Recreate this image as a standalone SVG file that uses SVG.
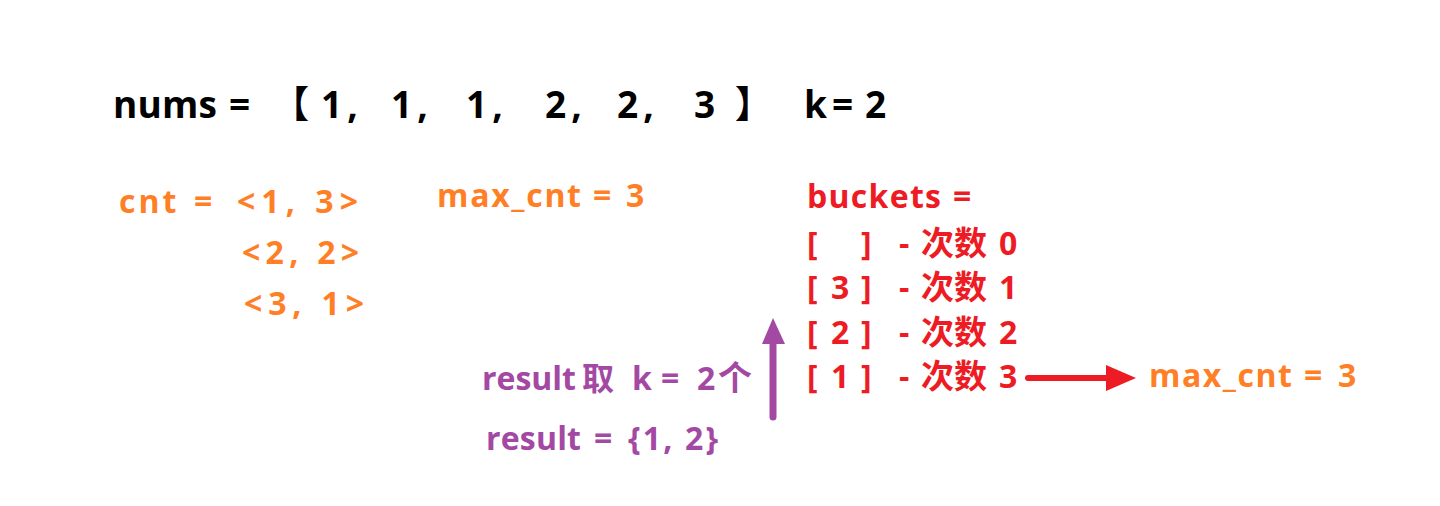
<svg xmlns="http://www.w3.org/2000/svg" width="1440" height="506" viewBox="0 0 1440 506">
<style>
text{font-family:"Open Sans","Noto Sans CJK SC",sans-serif;font-weight:bold;}
.k{fill:#000;font-size:37px;}
.cj{font-family:"Noto Sans CJK SC",sans-serif;}
.o{fill:#FF7F27;font-size:32px;}
.r{fill:#ED1C24;font-size:32px;}
.p{fill:#A349A4;font-size:32px;}
.z{font-size:34px;}
.c{font-size:33px;}
</style>
<rect width="1440" height="506" fill="#fff"/>
<g id="nums">
<text class="k" x="113" y="118" textLength="104" lengthAdjust="spacing">nums</text>
<text class="k" x="229" y="118">=</text>
<text class="k cj" x="272" y="118">【</text>
<text class="k" x="321" y="118" letter-spacing="5">1,</text>
<text class="k" x="391" y="118" letter-spacing="5">1,</text>
<text class="k" x="466" y="118" letter-spacing="5">1,</text>
<text class="k" x="545" y="118" letter-spacing="5">2,</text>
<text class="k" x="617" y="118" letter-spacing="5">2,</text>
<text class="k" x="694" y="118">3</text>
<text class="k cj" x="735" y="118">】</text>
<text class="k" x="804" y="118">k</text>
<text class="k" x="832" y="118">=</text>
<text class="k" x="865" y="118">2</text>
</g>
<g id="cnt">
<text class="o" x="119" y="213" letter-spacing="3">cnt</text>
<text class="o" x="194" y="213">=</text>
<text class="o" x="237" y="213" textLength="121" lengthAdjust="spacing">&lt;1, 3&gt;</text>
<text class="o" x="242" y="264" textLength="117" lengthAdjust="spacing">&lt;2, 2&gt;</text>
<text class="o" x="244" y="315" textLength="120" lengthAdjust="spacing">&lt;3, 1&gt;</text>
</g>
<g id="maxcnt1">
<text class="o" x="437" y="207" textLength="144" lengthAdjust="spacing">max_cnt</text>
<text class="o" x="593" y="207">=</text>
<text class="o" x="626" y="207">3</text>
</g>
<g id="buckets">
<text class="r" x="807" y="208" textLength="134" lengthAdjust="spacing">buckets</text>
<text class="r" x="953" y="208">=</text>
<g id="row0">
<text class="r" x="807" y="255">[</text>
<text class="r" x="861" y="255">]</text>
<text class="r" x="899" y="255">-</text>
<text class="r cj c" x="921" y="255">次数</text>
<text class="r" x="999" y="255">0</text>
</g>
<g id="row1">
<text class="r" x="807" y="299">[</text>
<text class="r" x="831" y="299">3</text>
<text class="r" x="861" y="299">]</text>
<text class="r" x="899" y="299">-</text>
<text class="r cj c" x="921" y="299">次数</text>
<text class="r" x="999" y="299">1</text>
</g>
<g id="row2">
<text class="r" x="807" y="344">[</text>
<text class="r" x="831" y="344">2</text>
<text class="r" x="861" y="344">]</text>
<text class="r" x="899" y="344">-</text>
<text class="r cj c" x="921" y="344">次数</text>
<text class="r" x="999" y="344">2</text>
</g>
<g id="row3">
<text class="r" x="807" y="388">[</text>
<text class="r" x="831" y="388">1</text>
<text class="r" x="861" y="388">]</text>
<text class="r" x="899" y="388">-</text>
<text class="r cj c" x="921" y="388">次数</text>
<text class="r" x="999" y="388">3</text>
</g>
</g>
<g id="maxcnt2">
<text class="o" x="1149" y="387" textLength="143" lengthAdjust="spacing">max_cnt</text>
<text class="o" x="1304" y="387">=</text>
<text class="o" x="1338" y="387">3</text>
</g>
<g id="result1">
<text class="p" x="482" y="390" textLength="94" lengthAdjust="spacing">result</text>
<text class="p cj" x="582" y="390" font-size="30">取</text>
<text class="p" x="632" y="390">k</text>
<text class="p" x="661" y="390">=</text>
<text class="p" x="697" y="390">2</text>
<text class="p cj z" x="718" y="390">个</text>
</g>
<g id="result2">
<text class="p" x="486" y="450" textLength="95" lengthAdjust="spacing">result</text>
<text class="p" x="594" y="450">=</text>
<text class="p" x="628" y="450" textLength="90" lengthAdjust="spacing">{1, 2}</text>
</g>
<g id="connectors">
<line x1="1028" y1="378" x2="1110" y2="378" stroke="#ED1C24" stroke-width="6" stroke-linecap="round"/>
<polygon points="1106,365 1136,378 1106,391" fill="#ED1C24"/>
<line x1="773" y1="417" x2="773" y2="338" stroke="#A349A4" stroke-width="7" stroke-linecap="round"/>
<polygon points="762,344 785,344 773,318" fill="#A349A4"/>
</g>
</svg>
